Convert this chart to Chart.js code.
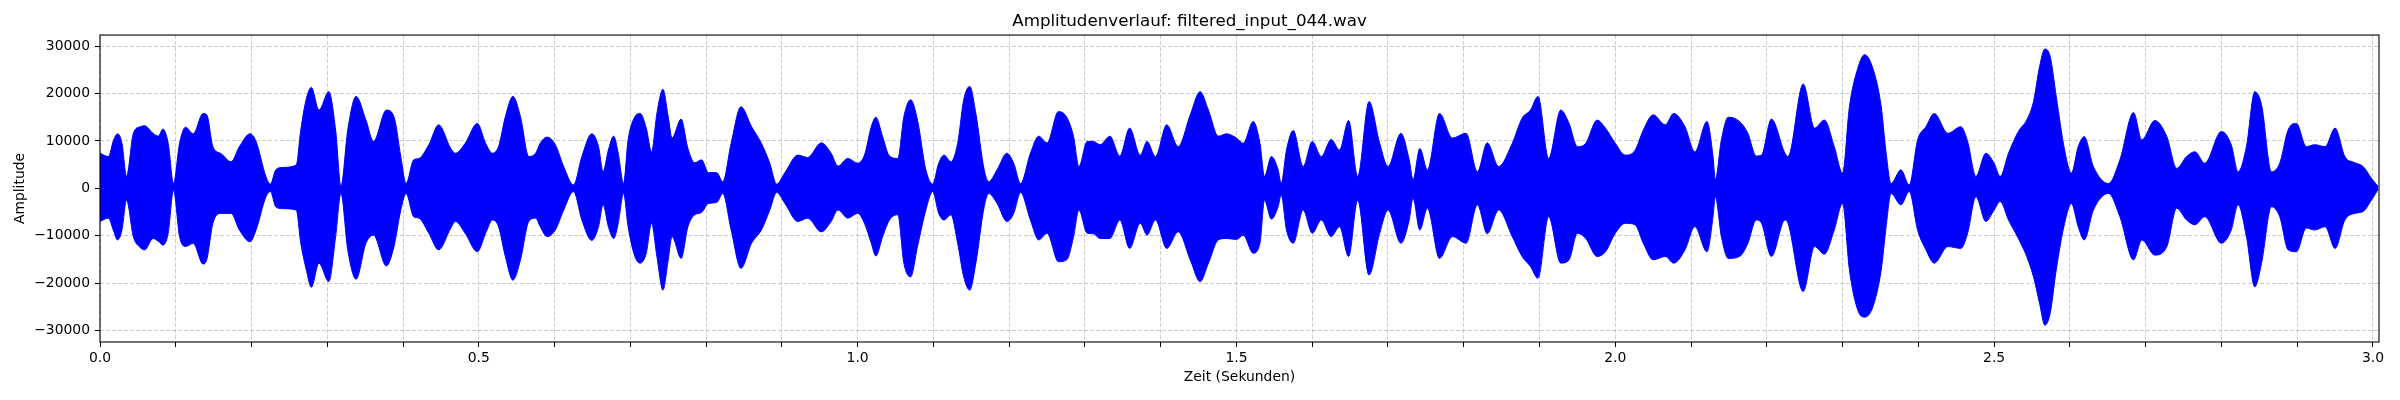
<!DOCTYPE html>
<html>
<head>
<meta charset="utf-8">
<title>Amplitudenverlauf</title>
<script src="https://cdn.jsdelivr.net/npm/chart.js@4.4.1/dist/chart.umd.min.js"></script>
<style>
	html, body { margin: 0; padding: 0; background: #ffffff; }
	#wadah { width: 2400px; height: 400px; position: relative; }
</style>
</head>
<body>
<div id="wadah"><canvas id="grafikwav"></canvas></div>
<script>
// Huellkurve des Signals (Zeit in s, Amplitude oben / unten)
var zeit = [
	0.000, 0.011, 0.018, 0.023, 0.029, 0.035, 0.044, 0.053, 0.059, 0.070, 0.077, 0.083, 0.090, 0.097,
	0.105, 0.113, 0.123, 0.136, 0.141, 0.149, 0.160, 0.173, 0.184, 0.198, 0.206, 0.219, 0.225, 0.232,
	0.241, 0.259, 0.265, 0.272, 0.279, 0.289, 0.302, 0.311, 0.318, 0.327, 0.338, 0.351, 0.361, 0.378,
	0.388, 0.397, 0.404, 0.414, 0.421, 0.434, 0.447, 0.463, 0.469, 0.482, 0.498,
	0.509, 0.518, 0.526, 0.535, 0.545, 0.555, 0.566, 0.575, 0.581, 0.590, 0.601, 0.612, 0.625, 0.636,
	0.649, 0.658, 0.664, 0.671, 0.678, 0.684, 0.691, 0.697, 0.706, 0.713, 0.721, 0.728, 0.735, 0.743,
	0.750, 0.755, 0.767, 0.776, 0.785, 0.794, 0.803, 0.814, 0.822, 0.833, 0.846, 0.860, 0.873, 0.884,
	0.893, 0.904, 0.921, 0.934, 0.952, 0.965, 0.974, 0.987, 1.000,
	1.009, 1.018, 1.024, 1.033, 1.042, 1.053, 1.061, 1.070, 1.079, 1.090, 1.099, 1.107, 1.114, 1.123,
	1.132, 1.140, 1.148, 1.156, 1.167, 1.173, 1.184, 1.197, 1.206, 1.215, 1.228, 1.239, 1.250, 1.265,
	1.276, 1.285, 1.292, 1.303, 1.311, 1.320, 1.333, 1.346, 1.359, 1.373, 1.382, 1.393, 1.408, 1.423,
	1.439, 1.452, 1.463, 1.476, 1.487, 1.500,
	1.509, 1.522, 1.531, 1.537, 1.546, 1.555, 1.559, 1.566, 1.575, 1.588, 1.600, 1.612, 1.625, 1.636,
	1.648, 1.660, 1.675, 1.689, 1.700, 1.717, 1.728, 1.733, 1.742, 1.752, 1.768, 1.785, 1.803, 1.818,
	1.831, 1.846, 1.864, 1.877, 1.888, 1.898, 1.912, 1.928, 1.939, 1.950, 1.961, 1.976, 1.987, 2.000,
	2.013, 2.026, 2.037, 2.050, 2.066, 2.077, 2.092, 2.105, 2.121, 2.129, 2.132, 2.140, 2.149, 2.164,
	2.175, 2.186, 2.193, 2.206, 2.224, 2.228, 2.248, 2.263, 2.276, 2.289, 2.300, 2.309, 2.320, 2.329,
	2.340, 2.351, 2.357, 2.364, 2.377, 2.388, 2.399, 2.410, 2.421, 2.439, 2.456, 2.465, 2.476, 2.489,
	2.500,
	2.508, 2.519, 2.532, 2.543, 2.552, 2.560, 2.567, 2.574, 2.582, 2.593, 2.602, 2.611, 2.619, 2.631,
	2.651, 2.666, 2.684, 2.695, 2.712, 2.728, 2.741, 2.754, 2.765, 2.778, 2.800, 2.813, 2.822, 2.833,
	2.844, 2.853, 2.866, 2.877, 2.888, 2.899, 2.912, 2.923, 2.937, 2.950, 2.963, 2.976, 2.987, 2.998,
	3.007
];
var oben = [
	7400, 6700, 10200, 11500, 9500, 2500, 11600, 13000, 13200, 11600, 11000, 12500, 9500, 1000,
	9500, 12900, 11500, 15800, 15500, 8800, 7300, 5600, 8800, 11500, 9900, 2500, 900, 3900,
	4400, 4900, 12300, 18700, 21300, 16500, 20400, 12300, 400, 12300, 19400, 14400, 9900, 16500,
	15100, 6700, 1000, 6000, 6300, 9200, 13400, 8400, 7400, 9500, 13700,
	9500, 7400, 8800, 15100, 19400, 15100, 6700, 7400, 9500, 10800, 9200, 4600, 700, 6700,
	11500, 8800, 3500, 8100, 11000, 7400, 1000, 10200, 15100, 15800, 12700, 7700, 15800, 20900,
	15100, 10600, 14600, 8400, 5400, 6000, 3300, 3300, 1400, 9500, 17200, 13000, 9500, 5300,
	900, 3300, 7000, 6500, 9600, 7400, 4700, 6300, 5300,
	7000, 13000, 15000, 10900, 6800, 6300, 15100, 18700, 14400, 3900, 900, 5300, 7000, 5600,
	9500, 18700, 21500, 15800, 3900, 1400, 3900, 7400, 5300, 1000, 7400, 11000, 9600, 16200,
	15000, 10900, 4600, 9900, 9900, 9200, 11000, 6800, 12700, 7000, 9900, 6700, 13400, 8800,
	15500, 20400, 16500, 11000, 11500, 10600,
	9500, 14100, 9500, 2500, 6700, 3900, 1000, 8100, 12200, 4600, 9900, 6700, 10300, 8100,
	14300, 2500, 18300, 9500, 4600, 11600, 6000, 1800, 8400, 3900, 15800, 10600, 11600, 3500,
	9600, 4600, 9500, 14800, 16500, 19400, 6300, 16500, 13700, 8800, 9500, 14400, 12700, 9500,
	7000, 8000, 12300, 15500, 13400, 15800, 13000, 7700, 14100, 6700, 1800, 10200, 15000, 14100,
	11600, 6800, 7000, 14600, 7400, 6700, 22000, 12700, 14400, 8800, 3200, 17200, 25300, 28200,
	25300, 17200, 8100, 1000, 3900, 700, 10200, 13000, 15800, 11600, 13000, 9900, 2500, 7400,
	5300,
	2500, 7400, 12000, 14400, 18300, 25700, 29400, 27800, 19400, 8100, 3200, 8800, 10900, 4600,
	1000, 6000, 16000, 10200, 14300, 10900, 4200, 6700, 7700, 5300, 12000, 9200, 3500, 8800,
	20400, 17600, 3500, 5300, 12300, 13700, 8800, 9200, 8800, 12700, 6700, 5400, 4600, 2100,
	350
];
var unten = [
	-7000, -6300, -9000, -10900, -8800, -2500, -10200, -12500, -13000, -10600, -11200, -12000, -9500, -400,
	-10200, -12300, -11600, -16000, -15000, -7400, -5300, -5300, -8800, -11300, -8800, -1800, -700, -3900,
	-4300, -4600, -11600, -17000, -20900, -15800, -19700, -10200, -1100, -13000, -19200, -11600, -9900, -16400,
	-12300, -4600, -1100, -6000, -6300, -9500, -13000, -8400, -7000, -9500, -13400,
	-9500, -6700, -8100, -14400, -19400, -15100, -7000, -6300, -8100, -10200, -8800, -4600, -700, -6700,
	-11000, -8100, -3500, -8100, -10600, -7400, -1100, -8100, -14400, -15800, -13700, -7400, -14400, -21500,
	-15100, -10200, -14800, -8100, -5600, -5100, -3200, -3000, -1100, -8800, -16900, -11600, -8800, -4600,
	-900, -3200, -7000, -6300, -9200, -7000, -4600, -6300, -5300,
	-7400, -11600, -14300, -10200, -6700, -5600, -15800, -18700, -12300, -4600, -700, -5300, -6700, -5600,
	-11600, -18700, -21500, -15800, -3900, -1100, -3200, -7000, -5300, -900, -6700, -10900, -9500, -15500,
	-15100, -10200, -4600, -9500, -9600, -10600, -10600, -6700, -12700, -7400, -9900, -6700, -12700, -9200,
	-15100, -19700, -15800, -10900, -10600, -10800,
	-9900, -13700, -11600, -2500, -6500, -3900, -1400, -8800, -11600, -4600, -9500, -6700, -10200, -8100,
	-14400, -2500, -18300, -9500, -4600, -11600, -6700, -2100, -8800, -4200, -14800, -10200, -11600, -3500,
	-9600, -4600, -10200, -14400, -16500, -19000, -6000, -15800, -15100, -9500, -10600, -14400, -13400, -9500,
	-7400, -7700, -11600, -15100, -14400, -15800, -13000, -8100, -13400, -6000, -1800, -10200, -14800, -14400,
	-11600, -6700, -7400, -14400, -6700, -7400, -21800, -12300, -13900, -8800, -3200, -17200, -25700, -27200,
	-25000, -17200, -8800, -1100, -3500, -700, -8800, -13000, -15800, -12300, -12700, -9500, -1800, -7000,
	-4600,
	-2800, -6700, -10600, -14400, -18700, -24300, -28900, -26400, -17200, -7400, -3200, -8100, -10900, -4600,
	-1100, -6000, -15100, -10900, -14100, -12300, -4200, -6700, -7700, -6000, -11600, -8800, -3500, -10200,
	-20800, -15800, -3900, -6000, -13000, -13400, -8400, -8800, -8100, -12700, -6700, -5300, -4900, -2500,
	-200
];

// Achsen: Ticks und Beschriftungen
var xTicks = [0.0, 0.1, 0.2, 0.3, 0.4, 0.5, 0.6, 0.7, 0.8, 0.9, 1.0, 1.1, 1.2, 1.3, 1.4, 1.5,
	1.6, 1.7, 1.8, 1.9, 2.0, 2.1, 2.2, 2.3, 2.4, 2.5, 2.6, 2.7, 2.8, 2.9, 3.0];
var xLabels = ['0.0', '0.5', '1.0', '1.5', '2.0', '2.5', '3.0'];
var yTicks = [-30000, -20000, -10000, 0, 10000, 20000, 30000];

var warna = {
	biru: '#0000ff',
	grid: 'rgba(176, 176, 176, 0.65)',
	hitam: '#000000'
};
var fontDasar = 'DejaVu Sans';

function titik(nilai) {
	var hasil = [];
	for (var i = 0; i < zeit.length; i++) {
		hasil.push({x: zeit[i], y: nilai[i]});
	}
	return hasil;
}

function labelX(value) {
	var teks = value.toFixed(1);
	if (xLabels.indexOf(teks) >= 0 && Math.abs(value * 2 - Math.round(value * 2)) < 1e-6) {
		return teks;
	}
	return '';
}

function labelY(value) {
	if (value < 0) {
		return '\u2212' + Math.abs(value);
	}
	return String(value);
}

// Rahmen um die Zeichenflaeche (wie matplotlib)
var rahmen = {
	id: 'rahmen',
	afterDraw: function(chart) {
		var ctx = chart.ctx;
		var a = chart.chartArea;
		ctx.save();
		ctx.strokeStyle = warna.hitam;
		ctx.lineWidth = 1.1;
		ctx.strokeRect(a.left, a.top, a.right - a.left, a.bottom - a.top);
		ctx.restore();
	}
};

var grafik = new Chart(document.getElementById('grafikwav'), {
	type: 'line',
	data: {
		datasets: [
			{
				label: 'oben',
				data: titik(oben),
				borderColor: warna.biru,
				backgroundColor: warna.biru,
				borderWidth: 1,
				pointRadius: 0,
				cubicInterpolationMode: 'monotone',
				fill: false
			},
			{
				label: 'unten',
				data: titik(unten),
				borderColor: warna.biru,
				backgroundColor: warna.biru,
				borderWidth: 1,
				pointRadius: 0,
				cubicInterpolationMode: 'monotone',
				fill: '-1'
			}
		]
	},
	options: {
		responsive: true,
		maintainAspectRatio: false,
		animation: false,
		devicePixelRatio: 1,
		layout: {
			padding: {left: 0, right: 21, top: 0, bottom: 0}
		},
		plugins: {
			legend: {display: false},
			tooltip: {enabled: false},
			title: {
				display: true,
				text: 'Amplitudenverlauf: filtered_input_044.wav',
				color: warna.hitam,
				font: {family: fontDasar, size: 16.7, weight: 'normal'},
				padding: {top: 12, bottom: 3}
			}
		},
		scales: {
			x: {
				type: 'linear',
				min: 0,
				max: 3.008,
				afterBuildTicks: function(scale) {
					scale.ticks = xTicks.map(function(v) { return {value: v}; });
				},
				afterFit: function(scale) {
					scale.height = 58;
				},
				ticks: {
					autoSkip: false,
					maxRotation: 0,
					padding: 3,
					color: warna.hitam,
					font: {family: fontDasar, size: 13.9},
					callback: labelX
				},
				grid: {
					color: warna.grid,
					lineWidth: 1,
					tickLength: 5,
					tickColor: warna.hitam,
					tickWidth: 1,
					tickBorderDash: []
				},
				border: {display: false, dash: [4, 2]},
				title: {
					display: true,
					text: 'Zeit (Sekunden)',
					color: warna.hitam,
					font: {family: fontDasar, size: 13.9},
					padding: {top: 0, bottom: 14}
				}
			},
			y: {
				type: 'linear',
				min: -32450,
				max: 32350,
				afterBuildTicks: function(scale) {
					scale.ticks = yTicks.map(function(v) { return {value: v}; });
				},
				afterFit: function(scale) {
					scale.width = 100;
				},
				ticks: {
					autoSkip: false,
					padding: 5,
					color: warna.hitam,
					font: {family: fontDasar, size: 13.9},
					callback: labelY
				},
				grid: {
					color: warna.grid,
					lineWidth: 1,
					tickLength: 5,
					tickColor: warna.hitam,
					tickWidth: 1,
					tickBorderDash: []
				},
				border: {display: false, dash: [4, 2]},
				title: {
					display: true,
					text: 'Amplitude',
					color: warna.hitam,
					font: {family: fontDasar, size: 13.9},
					padding: {top: 12, bottom: 0}
				}
			}
		}
	},
	plugins: [rahmen]
});
</script>
</body>
</html>
